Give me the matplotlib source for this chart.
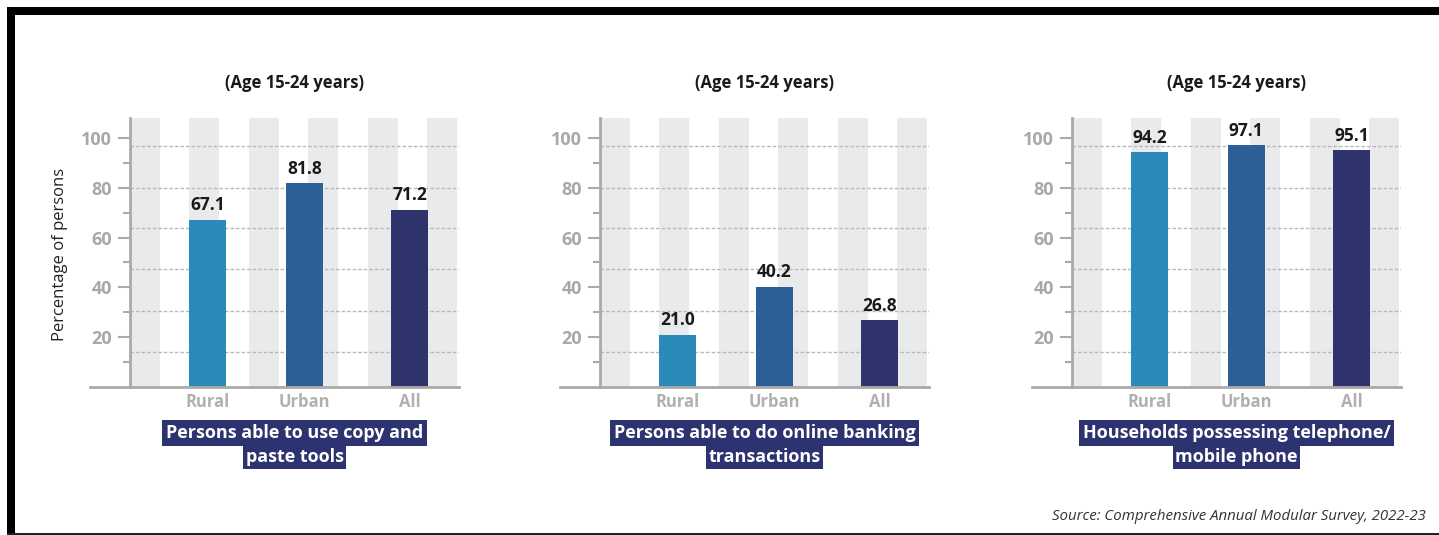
import matplotlib.pyplot as plt
from matplotlib.patches import Rectangle

# data
areas = ['Rural', 'Urban', 'All']
copy_paste = [67.1, 81.8, 71.2]
online_banking = [21.0, 40.2, 26.8]
phone_households = [94.2, 97.1, 95.1]
panel_values = [copy_paste, online_banking, phone_households]
panel_captions = [['Persons able to use copy and', 'paste tools'],
                  ['Persons able to do online banking', 'transactions'],
                  ['Households possessing telephone/', 'mobile phone']]
subtitle = '(Age 15-24 years)'
source = 'Source: Comprehensive Annual Modular Survey, 2022-23'

bar_colors = ['#2a8bbb', '#2c5e97', '#2e336b']
navy = '#2d3370'
stripe_col = '#e9eaec'
axis_col = '#aaaaaa'
grid_levels = [14.2, 30.7, 47.3, 63.8, 80.0, 96.6]
bar_x = [1.30, 2.93, 4.70]

plt.rcParams['font.family'] = ['Open Sans', 'DejaVu Sans']

W, H = 1439, 535
fig = plt.figure(figsize=(W / 100, H / 100), dpi=100)

def fx(px):
    return px / W

def fy(py):
    return 1 - py / H

yaxis_px = [130, 600, 1072]

for k in range(3):
    x0 = yaxis_px[k]
    ax = fig.add_axes([fx(x0 - 40), fy(387), 369 / W, 269 / H])
    ax.set_xlim(-0.672, 5.53)
    ax.set_ylim(0, 108)

    # background stripes
    for s in range(6):
        ax.add_patch(Rectangle((s, 0), 0.5, 108, facecolor=stripe_col,
                               edgecolor='none', zorder=0))
    for g in grid_levels:
        ax.plot([0, 5.53], [g, g], color='#b8b8b8', lw=1, ls=(0, (2.5, 1.5)), zorder=1)

    vals = panel_values[k]
    ax.bar(bar_x, vals, width=0.62, color=bar_colors, zorder=2)
    for xb, v in zip(bar_x, vals):
        ax.text(xb, v + 2.2, f'{v:.1f}', ha='center', va='bottom',
                fontsize=12.5, fontweight='bold', color='#1a1a1a')

    ax.spines['top'].set_visible(False)
    ax.spines['right'].set_visible(False)
    ax.spines['left'].set_position(('data', 0))
    ax.spines['left'].set_color(axis_col)
    ax.spines['bottom'].set_color(axis_col)
    ax.spines['left'].set_linewidth(2)
    ax.spines['bottom'].set_linewidth(2)

    ax.set_yticks([20, 40, 60, 80, 100])
    ax.set_yticks([10, 30, 50, 70, 90], minor=True)
    ax.tick_params(axis='y', which='major', length=9, width=1.5, color=axis_col,
                   labelcolor='#a8a8a8', labelsize=13, pad=4)
    ax.tick_params(axis='y', which='minor', length=5, width=1.5, color=axis_col)
    for lab in ax.get_yticklabels():
        lab.set_fontweight('bold')
    ax.set_xticks(bar_x)
    ax.set_xticklabels(areas, fontweight='bold', fontsize=12, color='#b0b0b0')
    ax.tick_params(axis='x', length=0, pad=4)

    cx = x0 + 329 / 2
    fig.text(fx(cx), fy(83), subtitle, ha='center', va='center',
             fontsize=12, fontweight='bold', color='#1a1a1a')

    line1, line2 = panel_captions[k]
    fig.text(fx(cx), fy(457.5), line2, ha='center', va='center', fontsize=13,
             fontweight='bold', color='white',
             bbox=dict(boxstyle='square,pad=0.12', fc=navy, ec='none'))
    fig.text(fx(cx), fy(433), line1, ha='center', va='center', fontsize=13,
             fontweight='bold', color='white',
             bbox=dict(boxstyle='square,pad=0.22', fc=navy, ec='none'))

fig.text(fx(60), fy(254), 'Percentage of persons', rotation=90, ha='center',
         va='center', fontsize=12, color='#222222')

fig.text(fx(1426), fy(516), source, ha='right', va='center', fontsize=10.8,
         style='italic', color='#333333')

# frame
fig.add_artist(Rectangle((fx(7), fy(15)), 1, 8 / H, transform=fig.transFigure,
                         facecolor='black', edgecolor='none'))
fig.add_artist(Rectangle((fx(7), 0), 8 / W, fy(7), transform=fig.transFigure,
                         facecolor='black', edgecolor='none'))
fig.add_artist(Rectangle((fx(7), 0), 1, 2 / H, transform=fig.transFigure,
                         facecolor='#222222', edgecolor='none'))

fig.savefig('out.png', dpi=100)
